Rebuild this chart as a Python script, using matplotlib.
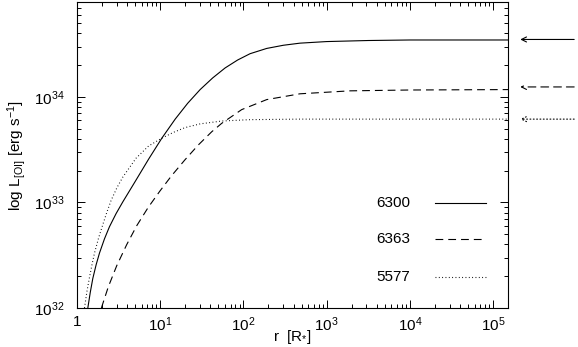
import numpy as np
import matplotlib
matplotlib.use("Agg")
import matplotlib.pyplot as plt
from matplotlib.ticker import LogLocator, FuncFormatter, NullFormatter

plt.rcParams['font.family'] = ['Liberation Sans', 'DejaVu Sans']
plt.rcParams['mathtext.default'] = 'regular'

# values: log10(r) and log10(L)
logr_6300 = [0.13, 0.16, 0.19, 0.23, 0.27, 0.33, 0.39, 0.47, 0.55, 0.70, 0.86, 1.02,
             1.18, 1.33, 1.48, 1.63, 1.78, 1.93, 2.08, 2.28, 2.48, 2.68, 3.0, 3.5,
             4.0, 5.18]
logL_6300 = [32.0, 32.15, 32.28, 32.41, 32.52, 32.655, 32.77, 32.895, 33.005, 33.20,
             33.41, 33.61, 33.79, 33.94, 34.07, 34.18, 34.275, 34.35, 34.41, 34.46,
             34.49, 34.51, 34.525, 34.535, 34.54, 34.54]

logr_6363 = [0.293, 0.376, 0.477, 0.597, 0.718, 0.857, 0.998, 1.138, 1.298, 1.458,
             1.619, 1.739, 1.979, 2.28, 2.68, 3.28, 4.0, 5.18]
logL_6363 = [32.0, 32.20, 32.40, 32.60, 32.78, 32.955, 33.11, 33.255, 33.405, 33.545,
             33.67, 33.75, 33.88, 33.975, 34.03, 34.058, 34.066, 34.07]

logr_5577 = [0.09, 0.12, 0.15, 0.18, 0.21, 0.26, 0.31, 0.36, 0.41, 0.48, 0.55, 0.71,
             0.86, 1.02, 1.16, 1.30, 1.48, 1.74, 2.08, 2.68, 5.18]
logL_5577 = [32.0, 32.16, 32.29, 32.41, 32.52, 32.665, 32.79, 32.91, 33.02, 33.14,
             33.24, 33.42, 33.535, 33.61, 33.665, 33.71, 33.745, 33.772, 33.785,
             33.79, 33.79]

labels = ['6300', '6363', '5577']
styles = ['-', (0, (7, 4.5)), (0, (0.8, 2.2))]
arrow_logL = [34.545, 34.095, 33.79]

fig = plt.figure(figsize=(5.78, 3.47), dpi=100)
ax = fig.add_axes([77/578, 39/347, 431/578, 306/347])

series = [(logr_6300, logL_6300), (logr_6363, logL_6363), (logr_5577, logL_5577)]
for (lr, lL), ls in zip(series, styles):
    ax.plot(10**np.array(lr), 10**np.array(lL), color='black', lw=0.8, ls=ls)

ax.set_xscale('log')
ax.set_yscale('log')
ax.set_xlim(1, 10**5.18)
ax.set_ylim(1e32, 10**34.9)

def xfmt(v, pos):
    n = int(round(np.log10(v)))
    return '1' if n == 0 else r'$10^{%d}$' % n

def yfmt(v, pos):
    n = int(round(np.log10(v)))
    return r'$10^{%d}$' % n

ax.xaxis.set_major_locator(LogLocator(base=10, numticks=10))
ax.xaxis.set_minor_locator(LogLocator(base=10, subs=np.arange(2, 10), numticks=20))
ax.xaxis.set_major_formatter(FuncFormatter(xfmt))
ax.xaxis.set_minor_formatter(NullFormatter())
ax.yaxis.set_major_locator(LogLocator(base=10, numticks=10))
ax.yaxis.set_minor_locator(LogLocator(base=10, subs=np.arange(2, 10), numticks=20))
ax.yaxis.set_major_formatter(FuncFormatter(yfmt))
ax.yaxis.set_minor_formatter(NullFormatter())

ax.tick_params(which='both', direction='in', top=True, right=True, labelsize=11)
ax.tick_params(which='major', length=6, width=0.7)
ax.tick_params(which='minor', length=3, width=0.7)
ax.tick_params(axis='y', pad=9)
ax.tick_params(axis='x', pad=5)
for s in ax.spines.values():
    s.set_linewidth(0.8)

ax.set_xlabel(r'r  [R$_{*}$]', fontsize=11)
ax.xaxis.set_label_coords(0.5, -20/306)
ax.set_ylabel(r'log L$_{[OI]}$ [erg s$^{-1}$]', fontsize=11)
ax.yaxis.set_label_coords(-49/431, 0.5)

# legend drawn by hand
for i, (lab, ls) in enumerate(zip(labels, styles)):
    yy = [0.343, 0.225, 0.101][i]
    ax.text(0.694, yy, lab, transform=ax.transAxes, fontsize=11, va='center', ha='left')
    ax.plot([0.831, 0.949], [yy, yy], transform=ax.transAxes, color='black', lw=0.8, ls=ls)

# arrows outside the right axis
for yv, ls in zip(arrow_logL, styles):
    ax.annotate('', xy=(1.022, 10**yv), xycoords=('axes fraction', 'data'),
                xytext=(1.16, 10**yv), textcoords=('axes fraction', 'data'),
                arrowprops=dict(arrowstyle='->', color='black', lw=0.8, ls=ls,
                                mutation_scale=9),
                annotation_clip=False)

fig.savefig('out.png', dpi=100)
